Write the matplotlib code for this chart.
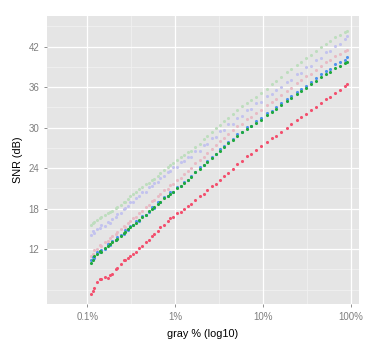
import numpy as np
import matplotlib
matplotlib.use("Agg")
import matplotlib.pyplot as plt

# shared x (gray %) for every method
gray_pct = [0.11, 0.115, 0.12, 0.13, 0.14, 0.145, 0.16, 0.17, 0.18, 0.19,
            0.21, 0.22, 0.24, 0.26, 0.27, 0.29, 0.31, 0.33, 0.36, 0.39,
            0.42, 0.46, 0.5, 0.55, 0.58, 0.63, 0.68, 0.75, 0.82, 0.88,
            0.95, 1.05, 1.15, 1.25, 1.4, 1.5, 1.7, 1.9, 2.1, 2.3,
            2.6, 2.9, 3.2, 3.6, 4.0, 4.5, 5.1, 5.8, 6.5, 7.3,
            8.2, 9.5, 11, 12.5, 14, 16, 18.5, 21, 24, 27,
            31, 35, 40, 46, 52, 58, 66, 75, 85, 90]

snr_lightgreen = [15.6, 15.9, 16.0, 16.3, 16.6, 16.7, 17.1, 17.3, 17.5, 17.7,
                  18.1, 18.2, 18.6, 18.9, 19.0, 19.4, 19.8, 20.1, 20.5, 20.9,
                  21.2, 21.6, 21.8, 22.2, 22.4, 22.8, 23.2, 23.7, 24.1, 24.4,
                  24.8, 25.2, 25.6, 25.9, 26.4, 26.6, 27.1, 27.6, 28.3, 28.7,
                  29.4, 29.9, 30.4, 31.0, 31.5, 32.0, 32.6, 33.2, 33.6, 34.1,
                  34.6, 35.1, 35.7, 36.4, 36.9, 37.5, 38.2, 38.7, 39.3, 39.8,
                  40.3, 40.8, 41.4, 41.9, 42.4, 42.9, 43.4, 43.8, 44.2, 44.4]

snr_lavender = [14.1, 14.6, 14.4, 15.0, 15.1, 15.5, 15.4, 16.0, 15.9, 16.5,
                16.8, 17.2, 17.4, 18.0, 18.1, 18.4, 18.9, 19.0, 19.6, 19.8,
                20.4, 20.5, 21.2, 21.3, 21.8, 22.0, 22.6, 22.8, 23.4, 23.5,
                24.1, 24.2, 24.9, 25.0, 25.6, 25.7, 26.5, 26.6, 27.4, 27.5,
                28.4, 28.6, 29.5, 29.6, 30.5, 30.6, 31.5, 31.7, 32.6, 32.7,
                33.6, 33.8, 34.7, 35.0, 35.6, 36.0, 36.8, 37.0, 37.9, 38.1,
                39.0, 39.2, 40.0, 40.3, 41.2, 41.3, 42.1, 42.4, 43.2, 43.6]

snr_pink = [11.0, 11.2, 11.8, 12.0, 12.6, 12.5, 13.1, 13.2, 13.7, 13.9,
            14.3, 14.5, 14.9, 15.4, 15.3, 15.9, 16.1, 16.6, 16.8, 17.4,
            17.6, 18.2, 18.5, 19.1, 19.2, 19.9, 20.1, 20.7, 20.9, 21.5,
            21.7, 22.3, 22.6, 23.1, 23.6, 24.0, 24.7, 25.2, 25.7, 26.3,
            26.9, 27.4, 28.0, 28.5, 29.1, 29.6, 30.3, 30.6, 31.3, 31.6,
            32.2, 32.6, 33.3, 33.8, 34.2, 34.9, 35.5, 35.9, 36.6, 37.0,
            37.6, 38.0, 38.6, 39.1, 39.7, 40.0, 40.6, 40.9, 41.3, 41.5]

snr_blue = [10.4, 10.8, 10.7, 11.6, 11.5, 11.9, 12.0, 12.7, 12.6, 13.2,
            13.3, 13.8, 14.1, 14.3, 14.8, 14.8, 15.4, 15.5, 16.1, 16.2,
            16.9, 17.0, 17.5, 18.2, 18.1, 18.9, 19.0, 19.7, 19.8, 20.4,
            20.5, 21.2, 21.3, 22.0, 22.3, 22.9, 23.4, 24.1, 24.5, 25.0,
            25.7, 26.1, 26.8, 27.3, 27.9, 28.3, 29.0, 29.4, 30.1, 30.3,
            31.0, 31.4, 32.1, 32.5, 33.0, 33.6, 34.2, 34.7, 35.3, 35.8,
            36.2, 36.8, 37.3, 37.9, 38.4, 38.7, 39.4, 39.7, 40.1, 40.4]

snr_green = [10.0, 10.3, 10.9, 11.3, 11.7, 11.6, 12.2, 12.5, 12.8, 13.0,
             13.4, 13.5, 14.0, 14.4, 14.5, 14.9, 15.2, 15.6, 15.9, 16.3,
             16.7, 17.1, 17.6, 18.0, 18.3, 18.7, 19.0, 19.5, 19.8, 20.2,
             20.5, 21.0, 21.4, 21.8, 22.3, 22.7, 23.4, 23.9, 24.4, 24.9,
             25.5, 26.1, 26.6, 27.2, 27.7, 28.2, 28.8, 29.3, 29.8, 30.2,
             30.7, 31.2, 31.8, 32.3, 32.7, 33.3, 33.9, 34.4, 35.0, 35.4,
             35.9, 36.4, 36.9, 37.5, 38.0, 38.3, 38.9, 39.2, 39.6, 39.8]

snr_red = [5.3, 5.8, 6.2, 7.1, 7.5, 7.6, 7.8, 7.7, 8.1, 8.3,
           9.0, 9.2, 9.8, 10.3, 10.4, 10.6, 10.9, 11.2, 11.6, 12.2,
           12.5, 13.1, 13.4, 13.9, 14.3, 14.7, 15.2, 15.6, 16.1, 16.6,
           16.8, 17.3, 17.5, 18.0, 18.4, 18.7, 19.3, 19.8, 20.1, 20.8,
           21.4, 21.7, 22.3, 22.9, 23.3, 23.9, 24.6, 25.1, 25.8, 26.1,
           26.7, 27.3, 27.8, 28.4, 28.8, 29.4, 30.0, 30.5, 31.1, 31.6,
           32.0, 32.6, 33.1, 33.7, 34.2, 34.6, 35.1, 35.6, 36.1, 36.4]

x_ticks = [0.1, 1, 10, 100]
x_labels = ["0.1%", "1%", "10%", "100%"]
y_ticks = [12, 18, 24, 30, 36, 42]

plt.rcParams['font.family'] = ['Liberation Sans', 'DejaVu Sans']

fig = plt.figure(figsize=(3.72, 3.51), dpi=100)
ax = fig.add_axes([0.1263, 0.1339, 0.8387, 0.8205])
ax.set_facecolor('#E5E5E5')
ax.set_xscale('log')
ax.set_xlim(0.0348, 123)
ax.set_ylim(3.85, 46.55)

# grid, ggplot2 grey theme
for v in [0.316, 3.16, 31.6]:
    ax.axvline(v, color='#F2F2F2', lw=0.5, zorder=0)
for v in [6, 9, 15, 21, 27, 33, 39, 45]:
    ax.axhline(v, color='#F2F2F2', lw=0.5, zorder=0)
for v in x_ticks:
    ax.axvline(v, color='white', lw=0.9, zorder=0)
for v in y_ticks:
    ax.axhline(v, color='white', lw=0.9, zorder=0)

series = [
    (snr_lightgreen, '#BEDDBE'),
    (snr_lavender, '#C3C3EE'),
    (snr_pink, '#E8BAC4'),
    (snr_blue, '#4F92EC'),
    (snr_green, '#1FA83E'),
    (snr_red, '#F2506E'),
]
for ys, col in series:
    ax.scatter(gray_pct, ys, s=5, color=col, linewidths=0, zorder=2)

ax.set_xticks(x_ticks)
ax.set_xticklabels(x_labels)
ax.minorticks_off()
ax.set_yticks(y_ticks)
ax.tick_params(axis='both', colors='#7F7F7F', labelcolor='#7F7F7F',
               labelsize=7, length=2.5, width=0.6, pad=3)
for s in ax.spines.values():
    s.set_visible(False)

ax.set_xlabel('gray % (log10)', fontsize=7.8, color='black', labelpad=5)
ax.set_ylabel('SNR (dB)', fontsize=7.8, color='black', labelpad=4)

fig.savefig('out.png', dpi=100, facecolor='white')
